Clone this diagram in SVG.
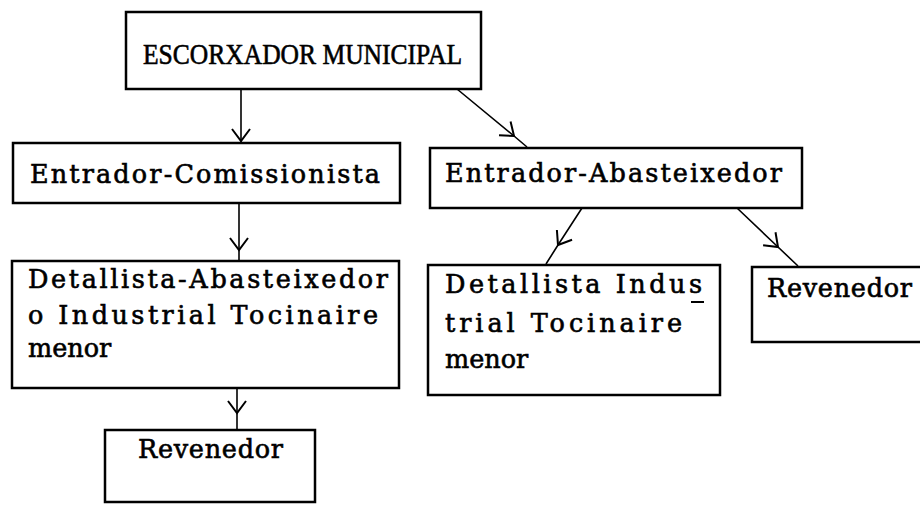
<svg xmlns="http://www.w3.org/2000/svg" width="920" height="506" viewBox="0 0 920 506">
<defs>
<marker id="v" markerUnits="userSpaceOnUse" markerWidth="30" markerHeight="30" refX="0" refY="0" viewBox="-15 -15 30 30" orient="auto" overflow="visible">
<path d="M-12,-9 L0,0 L-12,9" fill="none" stroke="#000" stroke-width="2"/>
</marker>
<style>
.box{fill:#fff;stroke:#000;stroke-width:2.5}
.t{font-family:"DejaVu Serif","Liberation Serif",serif;font-size:25.5px;fill:#000;stroke:#000;stroke-width:0.6}
.h{font-family:"Liberation Serif","Times New Roman",serif;font-size:29px;fill:#000;stroke:#000;stroke-width:0.6}
.c{fill:none;stroke:#000;stroke-width:1.6;marker-mid:url(#v)}
</style>
</defs>
<rect width="920" height="506" fill="#fff"/>
<g id="connectors">
<polyline class="c" points="241,88 241,141 241,143"/>
<polyline class="c" points="457,89 514,136 527,147"/>
<polyline class="c" points="239,203 239,250 239,261"/>
<polyline class="c" points="237,388 237,413 237,430"/>
<polyline class="c" points="582,208 558,245 546,264"/>
<polyline class="c" points="737,208 778,247 798,266"/>
</g>
<g id="escorxador">
<rect class="box" x="126" y="12" width="355" height="77"/>
<text class="h" x="143" y="64" textLength="319" lengthAdjust="spacingAndGlyphs">ESCORXADOR MUNICIPAL</text>
</g>
<g id="entrador-comissionista">
<rect class="box" x="13" y="143" width="387" height="60"/>
<text class="t" x="30" y="183" textLength="350" lengthAdjust="spacing">Entrador-Comissionista</text>
</g>
<g id="entrador-abasteixedor">
<rect class="box" x="430" y="148" width="372" height="60"/>
<text class="t" x="445" y="182" textLength="337" lengthAdjust="spacing">Entrador-Abasteixedor</text>
</g>
<g id="detallista-abasteixedor">
<rect class="box" x="12" y="261" width="387" height="127"/>
<text class="t" x="28" y="288" textLength="360" lengthAdjust="spacing">Detallista-Abasteixedor</text>
<text class="t" x="28" y="324" textLength="350" lengthAdjust="spacing">o Industrial Tocinaire</text>
<text class="t" x="28" y="357">menor</text>
</g>
<g id="revenedor-1">
<rect class="box" x="105" y="430" width="210" height="72"/>
<text class="t" x="138" y="458" textLength="145" lengthAdjust="spacing">Revenedor</text>
</g>
<g id="detallista-industrial">
<rect class="box" x="428" y="265" width="292" height="130"/>
<text class="t" x="445" y="293" textLength="257" lengthAdjust="spacing">Detallista Indus</text>
<line x1="691" y1="302" x2="704" y2="302" stroke="#000" stroke-width="2"/>
<text class="t" x="445" y="332" textLength="237" lengthAdjust="spacing">trial Tocinaire</text>
<text class="t" x="445" y="368">menor</text>
</g>
<g id="revenedor-2">
<rect class="box" x="752" y="267" width="175" height="75"/>
<text class="t" x="767" y="297" textLength="145" lengthAdjust="spacing">Revenedor</text>
</g>
</svg>
